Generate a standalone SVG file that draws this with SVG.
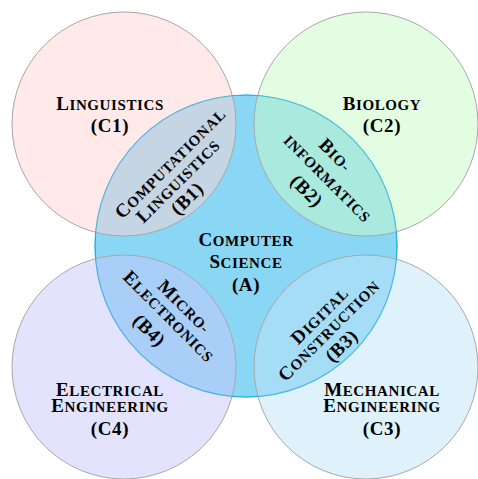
<svg xmlns="http://www.w3.org/2000/svg" width="478" height="479" viewBox="0 0 478 479">
<style>
.t{font-family:"Liberation Serif","Times New Roman",serif;font-weight:bold;font-size:15px;letter-spacing:0.6px;fill:#000;text-anchor:middle}
.l{font-size:15px;letter-spacing:0.8px}
.B{font-size:19px}
.lB{font-size:19px}
.outer{stroke:#a8a8a8;stroke-width:1;fill-opacity:0.5}
</style>
<rect width="478" height="479" fill="#fff"/>
<g id="A">
<circle cx="246" cy="246" r="151" fill="#8ad7f5" stroke="#29abe2" stroke-width="1.2"/>
</g>
<g id="C1"><circle class="outer" cx="124" cy="124" r="112" fill="#ffd3d3"/></g>
<g id="C2"><circle class="outer" cx="366" cy="124" r="112" fill="#c7fbc7"/></g>
<g id="C4"><circle class="outer" cx="124" cy="367" r="112" fill="#c7c7fb"/></g>
<g id="C3"><circle class="outer" cx="366" cy="367" r="112" fill="#bfe3f7"/></g>
<circle cx="246" cy="246" r="151" fill="none" stroke="#29abe2" stroke-width="1" stroke-opacity="0.6"/>
<g id="labels-C1">
<text class="t" x="110" y="110"><tspan class="B">L</tspan>INGUISTICS</text>
<text class="t B" x="110" y="132">(C1)</text>
</g>
<g id="labels-C2">
<text class="t" x="382" y="110"><tspan class="B">B</tspan>IOLOGY</text>
<text class="t B" x="382" y="132">(C2)</text>
</g>
<g id="labels-C4">
<text class="t" x="110" y="396"><tspan class="B">E</tspan>LECTRICAL</text>
<text class="t" x="110" y="412"><tspan class="B">E</tspan>NGINEERING</text>
<text class="t B" x="110" y="435">(C4)</text>
</g>
<g id="labels-C3">
<text class="t" x="382" y="396"><tspan class="B">M</tspan>ECHANICAL</text>
<text class="t" x="382" y="412"><tspan class="B">E</tspan>NGINEERING</text>
<text class="t B" x="382" y="435">(C3)</text>
</g>
<g id="labels-A">
<text class="t" x="246" y="246"><tspan class="B">C</tspan>OMPUTER</text>
<text class="t" x="246" y="268"><tspan class="B">S</tspan>CIENCE</text>
<text class="t B" x="246" y="291">(A)</text>
</g>
<g id="B1" transform="translate(171,171) rotate(-45)">
<text class="t l" x="5" y="0"><tspan class="lB">C</tspan>OMPUTATIONAL</text>
<text class="t l" x="-2" y="18"><tspan class="lB">L</tspan>INGUISTICS</text>
<text class="t lB" x="-8" y="37">(B1)</text>
</g>
<g id="B2" transform="translate(320,172) rotate(45)">
<text class="t l" x="-1" y="-17"><tspan class="lB">B</tspan>IO-</text>
<text class="t l" x="10" y="5">INFORMATICS</text>
<text class="t lB" x="4" y="29">(B2)</text>
</g>
<g id="B4" transform="translate(171,320) rotate(45)">
<text class="t l" x="0" y="-13"><tspan class="lB">M</tspan>ICRO-</text>
<text class="t l" x="-4" y="5"><tspan class="lB">E</tspan>LECTRONICS</text>
<text class="t lB" x="-8" y="29">(B4)</text>
</g>
<g id="B3" transform="translate(319,320.5) rotate(-45)">
<text class="t l" x="4" y="3"><tspan class="lB">D</tspan>IGITAL</text>
<text class="t l" x="0" y="20"><tspan class="lB">C</tspan>ONSTRUCTION</text>
<text class="t lB" x="-2" y="40">(B3)</text>
</g>
<g id="connectors"></g>
</svg>
